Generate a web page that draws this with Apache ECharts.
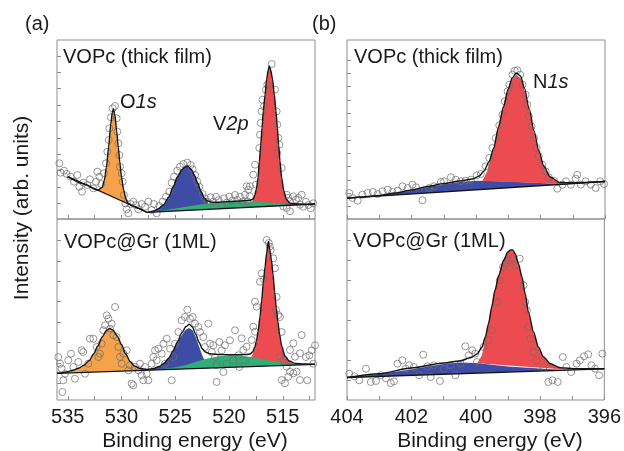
<!DOCTYPE html>
<html><head><meta charset="utf-8">
<script src="https://cdn.jsdelivr.net/npm/echarts@6/dist/echarts.min.js"></script>
<style>html,body{margin:0;padding:0;background:#fff}#c{width:624px;height:451px}</style>
</head><body><div id="c"></div>
<script>
// ---------- tick labels ----------
const vTicks = [512.5, 515, 517.5, 520, 522.5, 525, 527.5, 530, 532.5, 535];
const vLabels = [515, 520, 525, 530, 535];
const nTicks = [396, 397, 398, 399, 400, 401, 402, 403, 404];
const nLabels = [396, 398, 400, 402, 404];
const panelTitles = ['VOPc (thick film)', 'VOPc@Gr (1ML)', 'VOPc (thick film)', 'VOPc@Gr (1ML)'];

// ---------- (a) top: VOPc thick film, O1s + V2p ----------
const ltScatter = [[535.78,55.7],[535.66,46.3],[535.35,48.3],[535.1,45],[534.73,42.3],[534.42,37.3],[534.11,44],[533.92,32.3],[533.67,27.3],[533.55,36.3],[533.18,34],[532.93,39.7],[532.62,30.7],[532.37,37.3],[532.25,47.3],[532.06,42.3],[531.88,35],
[531.63,45.7],[531.44,55.7],[531.32,67.3],[531.19,79],[531.13,90.7],[530.98,101.7],[530.82,110.7],[530.6,113],[530.45,100.7],[530.39,87.3],[530.29,75.7],[530.2,64],[530.14,52.3],[529.98,45.7],[529.89,37.3],[529.77,24],
[529.64,15.7],[529.52,9.7],[529.36,5.7],[529.15,15],[528.9,17.3],[528.65,14],[528.43,9.7],[528.12,15],[527.81,12.3],[527.5,17.3],[527.19,9],[526.98,15],[526.73,5.7],[526.48,13],
[526.17,17.3],[525.86,22.3],[525.55,27.3],[525.33,36.3],[525.12,42.3],[524.81,48.3],[524.56,52.3],[524.25,55],[523.88,56.3],[523.57,54],[523.38,49.7],[523.16,44],[522.95,37.3],[522.76,32.3],[522.45,25],[522.23,20.7],[522.01,17.3],[521.7,21.7],[521.46,17.3],[521.21,22.3],[520.96,19],[520.68,14],[520.47,20.7],[520.22,16.3],[519.97,22.3],[519.72,18.3],[519.44,24],[519.23,19],[518.98,22.3],[518.73,17.3],
[518.51,24.3],[518.36,32.7],[518.3,17.7],[518.2,29.3],[518.05,32.7],[518.05,22.7],[517.74,44.3],[517.58,54.3],[517.49,34.3],[517.18,71],[517.12,84.3],[517.06,96],[516.96,107.7],[516.87,119.3],[516.75,112.7],[516.56,129.3],[516.44,134.3],[516.03,155],
[515.72,129.3],[515.57,107.7],[515.51,94.3],[515.41,81],[515.32,74.3],[515.51,66],[515.1,51],[514.95,12.7],[514.64,24.3],[514.48,21],[514.33,17.7],[514.02,22.7],[513.77,19.3],[513.55,21],[513.4,14.3],[513.24,24.3],[514.64,11],[514.33,7.7],
[513.09,12.3],[512.84,17.3],[512.62,14],[512.4,10.7],[512.16,15.7]];
const ltBgO1s = [[535.0,42.3],[527.6,6.5]];
const ltBgV2p = [[527.6,6.7],[512.0,15.0]];
const ltEnvelope = [[535.0,42.3],[533.5,35.1],[532.2,28.8],[531.8,31.8],[531.6,38.5],[531.4,52],[531.2,72],[531.0,95],[530.85,107],[530.75,110],[530.6,103],[530.45,88],[530.3,72],[530.15,56],[530.0,42],[529.8,29],[529.6,20.5],[529.4,15.5],[529.0,13.3],[528.3,10.4],[527.6,6.6],
[527.0,8.0],[526.6,10],[526.1,14],[525.6,22],[525.2,32],[524.8,42],[524.4,49],[524.1,52],[523.85,53],[523.5,49.5],[523.2,43.5],[522.9,35.5],[522.6,27.5],[522.3,21],[522.0,18],[521.6,16.8],[521.0,16.8],[520.0,17.5],[519.0,18],[518.3,18.5],[518.0,18.8],
[517.75,19.8],[517.6,24],[517.45,30],[517.3,41],[517.18,57],[517.05,74],[516.93,91],[516.81,108],[516.65,124],[516.5,140],[516.35,149],[516.25,153],[516.12,149],[515.95,140],[515.78,124],[515.63,108],[515.5,91],[515.38,74],[515.26,58],[515.1,41],[514.9,28],[514.65,19.5],[514.35,16],[514.0,15.3],[513.0,14.6],[512.0,15.0]];
const ltO1s = [[532.2,28.8],[531.8,31.5],[531.6,38.5],[531.4,52],[531.2,72],[531.0,95],[530.85,107],[530.75,110],[530.6,103],[530.45,88],[530.3,72],[530.15,56],[530.0,42],[529.8,29],[529.6,20.5],[529.4,15.2]];
const ltV2p12 = [[527.3,6.9],[527.0,8.0],[526.6,10],[526.1,14],[525.6,22],[525.2,32],[524.8,42],[524.4,49],[524.1,52],[523.85,53],[523.5,49.5],[523.2,43.5],[522.9,35.5],[522.6,27.5],[522.3,21],[522.0,17.5],[521.7,9.8]];
const ltSat = [[527.3,6.9],[526,8.8],[525,10.5],[524,12.3],[523,14],[522,15.5],[521,16.5],[520,17.3],[519,17.6],[518,17.6],[517,17],[516,16.3],[515,15.3],[514.2,13.7]];
const ltV2p32 = [[518.1,11.7],[517.75,19.5],[517.6,24],[517.45,30],[517.3,41],[517.18,57],[517.05,74],[516.93,91],[516.81,108],[516.65,124],[516.5,140],[516.35,149],[516.25,153],[516.12,149],[515.95,140],[515.78,124],[515.63,108],[515.5,91],[515.38,74],[515.26,58],[515.1,41],[514.9,28],[514.65,19.5],[514.35,16],[514.0,15.3],[513.6,14.1]];

// ---------- (a) bottom: VOPc@Gr (1ML), O1s + V2p ----------
const lbScatter = [[535.88,43],[535.72,36.3],[535.57,31.3],[535.41,19.7],[535.26,26.3],[535.5,8],[534.95,39.7],[534.7,46.3],[534.48,33],[534.33,21.3],[534.02,38],[533.71,49.7],[533.56,48],[533.4,26.3],[533.09,36.3],[532.93,61.3],[532.62,61.3],[532.31,53],[532.15,43],[532.0,46.3],[531.84,56.3],[531.69,69.7],[531.53,74.7],[531.38,84.7],[531.22,81.3],[531.07,71.3],[530.91,76.3],[530.6,93],[530.76,64.7],[530.45,63],[530.3,53],[530.14,43],[529.98,36.3],[529.83,46.3],[529.52,49.7],[529.36,29.7],[529.21,34.7],[529.05,16.3],[528.9,14.7],[528.74,33],[528.43,29.7],[528.28,36.3],[528.12,24.7],[527.97,19.7],[527.81,33],[527.66,26.3],[527.5,19.7],[527.19,36.3],[527.04,43],[526.88,49.7],[526.73,39.7],[526.57,51.3],[526.26,46.3],[526.1,56.3],[525.95,36.3],[525.79,61.3],[525.48,51.3],[525.33,19.7],[525.17,43],[525.02,56.3],[524.71,68],
[524.4,79.7],[524.1,83],[523.88,90.3],[523.63,81.3],[523.38,83],[523.16,76.3],[522.85,73],[522.7,68],[522.39,63],[521.93,76.3],[522.24,53],[521.77,56.3],[521.6,48],[521.46,54.7],[521.3,43],[521.15,34.7],[520.9,58],[520.68,49.7],[520.53,28],[520.38,54.7],[520.22,36.3],[519.91,59.7],[519.6,39.7],[519.44,69.7],[519.13,44.7],[519.04,33],[521.15,18],[518.51,39.7],
[518.82,61.7],[518.67,50],[518.36,53.3],[517.89,60],[517.74,73.3],[517.58,68.3],[517.58,98.3],[517.43,93.3],[517.12,118.3],[516.96,126.7],[516.75,120.7],[516.5,160],[516.3,157],[516.2,153.5],[516.12,149.7],[515.88,141.7],[515.72,131.7],[515.63,90],[515.57,103],[515.41,85],[515.26,83],[515.1,68],[515.26,43.3],[514.95,40],[514.33,50],[514.02,56.7],[513.86,43.3],[513.4,46.7],[513.24,65],[514.64,33.3],[514.33,28.3],[514.48,23.3],[515.1,20],[514.79,16.7],[514.02,26.7],[513.71,28.3],[513.4,20],
[512.84,43],[512.72,19.7],[512.53,44.7],[512.31,49.7],[512.16,36.3],[512.0,54.7]];
const lbBg = [[536.0,26.7],[512.0,35.7]];
const lbEnvelope = [[536.0,26.7],[535.5,27.2],[535.0,28.3],[534.5,29.8],[534.0,31.8],[533.5,34.8],[533.0,39.5],[532.6,46],[532.2,54],[531.8,63],[531.4,69.5],[531.1,71.5],[530.8,70],[530.4,64],[530.0,55.5],[529.6,46],[529.2,38.5],[528.8,34],[528.3,31.5],[527.6,30.6],[527.0,31.5],[526.5,33.5],[526.0,37],[525.6,42],[525.2,49],[524.8,58],[524.4,67],[524.0,73.5],[523.7,75.7],[523.4,73],[523.1,66],[522.8,58],[522.5,51.5],[522.2,48],[521.8,46.3],[521.0,45.5],[520.0,45.3],[519.0,45.3],[518.4,45.5],
[518.05,46],[517.8,48],[517.6,53],[517.45,59],[517.3,68],[517.12,83],[516.96,100],[516.81,117],[516.65,133],[516.5,147],[516.34,158.5],[516.2,150],[516.05,140],[515.9,125],[515.75,108],[515.6,92],[515.45,78],[515.3,66],[515.1,54],[514.8,44],[514.4,39],[513.8,36.5],[513.0,36.0],[512.0,35.8]];
const lbO1s = [[535.5,26.9],[535.0,28.1],[534.5,29.6],[534.0,31.6],[533.5,34.6],[533.0,39.3],[532.6,45.8],[532.2,53.8],[531.8,62.8],[531.4,69.3],[531.1,71.3],[530.8,69.8],[530.4,63.8],[530.0,55.3],[529.6,45.8],[529.2,38.3],[528.8,33.8],[528.3,31.2],[527.6,30.0],[527.0,30.1]];
const lbV2p12 = [[527.6,29.8],[526.8,31.8],[526.2,35],[525.7,40.5],[525.3,47],[524.9,55],[524.5,63],[524.1,69.5],[523.75,72],[523.4,70],[523.1,63],[522.8,54],[522.5,45],[522.2,38],[521.9,34.5],[521.5,32.1]];
const lbSat = [[527.5,29.8],[526,31.2],[525,32.7],[524,35],[523,38.5],[522,41.5],[521,43.8],[520,44.8],[519,44.5],[518,43],[517,41],[516,39],[515,37.3],[514,35.8],[513.3,35.2]];
const lbV2p32 = [[518.3,33.3],[518.0,41],[517.8,46],[517.6,52],[517.45,58],[517.3,67],[517.12,82],[516.96,99],[516.81,116],[516.65,132],[516.5,146],[516.34,157],[516.2,149],[516.05,139],[515.9,124],[515.75,107],[515.6,91],[515.45,77],[515.3,65],[515.1,53],[514.8,43],[514.4,38.5],[513.8,36],[513.2,35.2]];

// ---------- (b) top: VOPc thick film, N1s ----------
const rtScatter = [[403.93,26],[403.83,21],[403.67,18.3],[403.52,24.3],[403.36,26],[403.2,27],[403.05,25],[402.9,27.7],[402.74,29.3],[402.59,27],[402.43,28.3],[402.28,32.7],[402.12,31],[401.97,34.3],[401.86,31.7],[401.66,18.7],[401.45,31],[401.3,32.7],[401.09,37],[400.99,37.7],[400.78,41.7],[400.63,39.3],[400.47,37.7],[400.32,38.3],[400.16,39.3],[399.98,43.7],[399.85,45],[399.7,52.7],[399.59,61],[399.49,71],[399.39,81],[399.28,93.7],[399.18,104.3],[399.11,117.7],[399.02,127.7],[398.97,134.3],[398.87,144.3],[398.8,148.3],[398.72,148.7],[398.63,144.3],[398.56,134.3],[398.46,124.3],[398.41,114.3],[398.36,102.7],[398.28,92.7],[398.2,81],[398.12,71],[398.05,62.7],[397.94,54.3],[397.84,47.7],[397.74,41.7],[397.58,38.3],[397.48,30.3],[397.32,34.3],[397.21,37.7],[397.06,34.3],[396.91,40.3],[396.86,44.3],[396.75,34.3],[396.6,37.7],[396.44,34.3],[396.29,31],[396.15,37.7],[396.03,35]];
const rtBg = [[404,20.8],[396,37.5]];
const rtEnvelope = [[404,20.8],[403.5,22],[403,23.5],[402.5,26],[402,29],[401.5,32.5],[401,35.5],[400.5,38],[400.1,40],[399.9,43],[399.75,48],[399.6,57],[399.45,71],[399.3,92],[399.15,112],[399.0,130],[398.88,141],[398.75,146],[398.62,143],[398.5,131],[398.35,110],[398.2,88],[398.05,68],[397.9,53],[397.7,42],[397.4,36.5],[397.0,36.2],[396.0,37.5]];
const rtShake = [[404,20.8],[403,23.2],[402.5,25.8],[402,28.5],[401.5,31.8],[401,34.8],[400.5,37],[400,38.2],[399.5,38],[399,37.5],[398.5,36.8],[398,36],[397.5,35.2],[397.2,35.0]];
const rtN1s = [[399.8,38.1],[399.65,48],[399.5,66],[399.35,88],[399.2,108],[399.05,126],[398.9,139],[398.75,144],[398.6,140],[398.45,123],[398.3,101],[398.15,79],[398.0,61],[397.85,49],[397.65,40.5],[397.4,36],[397.2,35.0]];

// ---------- (b) bottom: VOPc@Gr (1ML), N1s ----------
const rbScatter = [[404.03,31.3],[403.93,26.3],[403.77,23.7],[403.62,19.7],[403.41,31.3],[403.26,18],[403.1,19],[402.95,24.7],[402.79,21.7],[402.64,17],[402.54,18.7],[402.43,36.3],[402.28,39.7],[402.17,31.3],[402.07,34.7],[401.92,33],[401.76,24.7],[401.63,45.3],[401.5,33.7],[401.4,23],[401.3,34.7],[401.11,19],[400.99,31.3],[400.78,34.7],[400.63,24.7],[400.47,36.3],[400.32,53.7],[400.21,44.7],[400.11,49.7],[400.01,46.3],[399.96,38],[399.75,53],[399.6,59.7],[399.49,69.7],[399.34,98],[399.25,119.7],[399.15,133],[399.05,136.3],[398.97,139.7],[398.87,141.3],[398.77,134.7],[398.63,141.3],[398.51,114.7],[398.46,98],[398.41,89.7],[398.36,73],[398.3,61.3],[398.2,48],[398.1,39.7],[397.89,33],[397.74,18],[397.61,19.7],[397.45,18],[397.29,43],[397.18,33],[397.03,28],[396.86,36.3],[396.76,39.7],[396.63,43.7],[396.5,45.7],[396.4,34.7],[396.29,31.3],[396.16,24.7],[396.06,46.3]];
const rbBg = [[404,22.5],[396,31.2]];
const rbEnvelope = [[404,22.5],[403,26.3],[402,32],[401,37],[400.5,39],[400.1,43],[399.95,46.3],[399.8,53],[399.7,63],[399.6,76.3],[399.5,93],[399.4,109.7],[399.28,124.7],[399.13,139.7],[399.0,148],[398.92,150],[398.85,150],[398.77,146.3],[398.67,136.3],[398.56,123],[398.46,106.3],[398.36,88],[398.2,68],[398.05,53],[397.89,43],[397.68,36.3],[397.38,32.3],[396.86,31.3],[396.0,31.2]];
const rbShake = [[404,22.5],[403,26],[402,30.5],[401.5,33.5],[401,36],[400.5,37.5],[400,37],[399.5,35.3],[399,33.6],[398.5,32.4],[398,31.5],[397.5,30.5],[397.2,29.9]];
const rbN1s = [[399.95,36.8],[399.8,45],[399.7,62],[399.6,78],[399.5,95],[399.4,110],[399.28,126],[399.15,140],[399.0,148],[398.88,149.5],[398.77,145.5],[398.67,135.5],[398.56,122],[398.46,105.5],[398.36,87],[398.2,67],[398.05,52],[397.89,42.5],[397.68,36],[397.38,31.8],[397.0,30.1]];

// ---------- styling ----------
const FONT = "'Liberation Sans', Arial, Helvetica, sans-serif";
const TXT = '#1a1a1a';
const FRAME = '#8c8c8c';
const C_OR = '#f6a24a', C_BL = '#3e4ca6', C_GR = '#2fae78', C_RD = '#ec4c4f';

const chart = echarts.init(document.getElementById('c'), null, {renderer: 'canvas'});

const gridDefs = [
  {left: 57, top: 40, width: 258, height: 179},
  {left: 57, top: 219, width: 258, height: 181},
  {left: 347, top: 40, width: 258, height: 179},
  {left: 347, top: 219, width: 258, height: 181}
];
const xRanges = [[512, 536], [512, 536], [396, 404], [396, 404]];
const yMax = [179, 181, 179, 181];
const yTickSets = [
  [15.7, 32.1, 48.4, 64.8, 81.2, 97.5, 113.9, 130.3, 146.6, 163],
  [16.7, 37.1, 57.5, 77.9, 98.3, 118.7, 139.1, 159.5],
  [12.3, 25.7, 39, 52.4, 65.7, 79.1, 92.4, 105.8, 119.1, 132.5, 145.8, 159.2],
  [20, 40, 60, 80, 100, 120, 140, 160]
];

function fill(idx, pts, color) {
  return {
    type: 'custom', coordinateSystem: 'cartesian2d', xAxisIndex: idx, yAxisIndex: idx,
    data: pts, clip: true, silent: true, z: 2,
    renderItem: function (params, api) {
      if (params.dataIndex !== 0) return null;
      return {type: 'polygon', shape: {points: pts.map(p => api.coord(p))}, style: {fill: color}};
    }
  };
}
function line(idx, pts, w, smooth) {
  return {type: 'line', xAxisIndex: idx, yAxisIndex: idx, data: pts, showSymbol: false, silent: true,
    smooth: smooth ? 0.25 : false, smoothMonotone: 'x', z: 4, clip: true,
    lineStyle: {color: '#141414', width: w}};
}
function scatter(idx, pts) {
  return {type: 'scatter', xAxisIndex: idx, yAxisIndex: idx, data: pts, symbol: 'circle', symbolSize: 7,
    silent: true, z: 3, clip: true,
    itemStyle: {color: 'rgba(255,255,255,0)', borderColor: '#6e6e6e', borderWidth: 0.9}};
}

const series = [
  fill(0, ltO1s, C_OR), fill(0, ltV2p12, C_BL), fill(0, ltV2p32, C_RD), fill(0, ltSat, C_GR),
  scatter(0, ltScatter),
  line(0, ltBgO1s, 1.3, false), line(0, ltBgV2p, 1.3, false), line(0, ltEnvelope, 1.4, true),

  fill(1, lbO1s, C_OR), fill(1, lbV2p12, C_BL), fill(1, lbV2p32, C_RD), fill(1, lbSat, C_GR),
  scatter(1, lbScatter),
  line(1, lbBg, 1.3, false), line(1, lbEnvelope, 1.4, true),

  fill(2, rtShake, C_BL), fill(2, rtN1s, C_RD),
  scatter(2, rtScatter),
  line(2, rtBg, 1.3, false), line(2, rtEnvelope, 1.4, true),

  fill(3, rbShake, C_BL), fill(3, rbN1s, C_RD),
  scatter(3, rbScatter),
  line(3, rbBg, 1.3, false), line(3, rbEnvelope, 1.4, true)
];

const textStyle = (t, x, y, size, extra) => Object.assign({
  type: 'text', x: x, y: y, silent: true, z: 10,
  style: {text: t, fill: TXT, font: size + 'px ' + FONT, textAlign: 'left', textVerticalAlign: 'middle', align: 'left', verticalAlign: 'middle'}
}, extra || {});

function richLabel(plain, ital, x, y) {
  return {
    type: 'text', x: x, y: y, silent: true, z: 10,
    style: {
      text: '{n|' + plain + '}{i|' + ital + '}', textVerticalAlign: 'middle', verticalAlign: 'middle',
      rich: {
        n: {font: '20px ' + FONT, fill: TXT},
        i: {font: 'italic 20px ' + FONT, fill: TXT}
      }
    }
  };
}

const graphics = [
  textStyle('(a)', 25, 24, 20),
  textStyle('(b)', 312, 24, 20),
  textStyle(panelTitles[0], 63, 57, 20),
  textStyle(panelTitles[1], 64, 242, 20),
  textStyle(panelTitles[2], 354, 57, 20),
  textStyle(panelTitles[3], 353, 241, 20),
  richLabel('O', '1s', 120, 102),
  richLabel('V', '2p', 213, 124),
  richLabel('N', '1s', 533, 82),
  {type: 'text', x: 195, y: 441, silent: true, style: {text: 'Binding energy (eV)', fill: TXT, font: '21px ' + FONT, textAlign: 'center', align: 'center', textVerticalAlign: 'middle', verticalAlign: 'middle'}},
  {type: 'text', x: 490, y: 441, silent: true, style: {text: 'Binding energy (eV)', fill: TXT, font: '21px ' + FONT, textAlign: 'center', align: 'center', textVerticalAlign: 'middle', verticalAlign: 'middle'}},
  {type: 'text', x: 22, y: 208, rotation: Math.PI / 2, silent: true, style: {text: 'Intensity (arb. units)', fill: TXT, font: '21px ' + FONT, textAlign: 'center', align: 'center', textVerticalAlign: 'middle', verticalAlign: 'middle'}}
];

chart.setOption({
  animation: false,
  backgroundColor: '#ffffff',
  grid: gridDefs.map(g => Object.assign({show: true, borderColor: FRAME, borderWidth: 1, backgroundColor: 'transparent', containLabel: false}, g)),
  xAxis: gridDefs.map((g, i) => ({
    type: 'value', gridIndex: i, inverse: true, min: xRanges[i][0], max: xRanges[i][1],
    axisLine: {show: false}, splitLine: {show: false},
    axisTick: {show: true, inside: true, length: 4, lineStyle: {color: FRAME, width: 1}, customValues: i < 2 ? vTicks : nTicks},
    axisLabel: {show: i === 1 || i === 3, customValues: i < 2 ? vLabels : nLabels, fontSize: 20, fontFamily: FONT, color: TXT, margin: 7}
  })),
  yAxis: gridDefs.map((g, i) => ({
    type: 'value', gridIndex: i, min: 0, max: yMax[i],
    axisLine: {show: false}, splitLine: {show: false}, axisLabel: {show: false},
    axisTick: {show: true, inside: true, length: 4, lineStyle: {color: FRAME, width: 1}, customValues: yTickSets[i]}
  })),
  series: series,
  graphic: graphics
});
</script></body></html>
